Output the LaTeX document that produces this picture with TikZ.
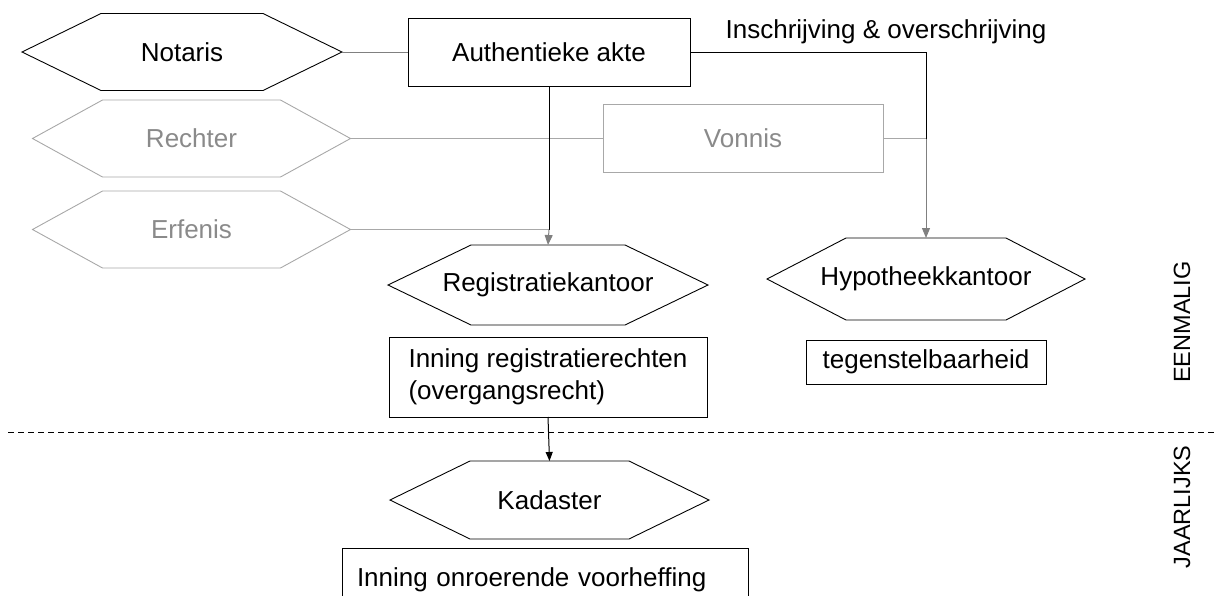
\documentclass[tikz,border=0pt]{standalone}
\usepackage{fontspec}
\setmainfont{Liberation Sans}
\usetikzlibrary{calc,arrows.meta}
\definecolor{lighttext}{HTML}{8A8A8A}
\definecolor{lightline}{HTML}{A8A8A8}
\definecolor{arrowgray}{HTML}{808080}
\newcommand\hexnode[8]{%
  \node[hextext, #7 text, minimum width=2*#4, minimum height=2*#5] (#1) at (#2,#3) {#8};
  \draw[#7 path] (#1.west) -- ($(#1.north west)+(#6,0)$) -- ($(#1.north east)+(-#6,0)$)
    -- (#1.east) -- ($(#1.south east)+(-#6,0)$) -- ($(#1.south west)+(#6,0)$) -- cycle;
}
\begin{document}
\begin{tikzpicture}[x=1pt,y=-1pt,
  every node/.style={font=\fontsize{26}{32}\selectfont},
  hextext/.style={inner sep=0pt, outer sep=0pt},
  dark text/.style={text=black},
  light text/.style={text=lighttext},
  dark path/.style={draw=black, line width=0.9pt},
  light path/.style={draw=lightline, line width=0.9pt},
  boxn/.style={draw=black, line width=1pt, inner sep=0pt, outer sep=0pt, text=black},
  lightbox/.style={draw=lightline, line width=1pt, inner sep=0pt, outer sep=0pt, text=lighttext},
  lbl/.style={inner sep=0pt, outer sep=0pt, text=black},
  darkline/.style={draw=black, line width=1pt},
  midline/.style={draw=arrowgray, line width=1pt},
  lightline/.style={draw=lightline, line width=1pt},
  grayarrow/.style={draw=arrowgray, line width=1pt, -{Triangle[width=8pt,length=10pt]}},
  blackarrow/.style={draw=black, line width=1pt, -{Triangle[width=7pt,length=9pt]}},
  sidelabel/.style={inner sep=0pt, rotate=90, font=\fontsize{23.5}{28}\selectfont, text=black},
]
\useasboundingbox (0,0) rectangle (1216,595);

% hexagons
\hexnode{notaris}{182}{52}{160}{38.5}{79}{dark}{Notaris}
\hexnode{rechter}{191.5}{138.5}{159}{38.5}{70}{light}{Rechter}
\hexnode{erfenis}{191.5}{229.5}{159}{38.5}{70}{light}{Erfenis}
\hexnode{reg}{548}{285}{160}{40}{83}{dark}{Registratiekantoor}
\hexnode{hyp}{926}{279}{159}{41}{79}{dark}{Hypotheekkantoor}
\hexnode{kad}{549.5}{500}{159.5}{39}{80}{dark}{Kadaster}

% boxes
\node[boxn, minimum width=282, minimum height=68] (akte) at (549,52) {Authentieke akte};
\node[lightbox, minimum width=280, minimum height=68] (vonnis) at (743,138.5) {Vonnis};
\node[boxn, minimum width=318, minimum height=80, align=left] (inreg) at (548,377)
  {Inning registratierechten\\(overgangsrecht)};
\node[boxn, minimum width=240, minimum height=44] (teg) at (926,362) {tegenstelbaarheid};
\node[boxn, minimum width=406, minimum height=64, text width=376, align=left] (inon) at (545,580)
  {Inning onroerende voorheffing};

% labels
\node[lbl] (insch) at (886,32) {Inschrijving \& overschrijving};
\node[sidelabel] (eenm) at (1182,322) {EENMALIG};
\node[sidelabel] (jaar) at (1182,507) {JAARLIJKS};

% junctions
\coordinate (j1) at (akte.south |- erfenis.east);
\coordinate (j2) at (hyp.north |- vonnis.east);
\coordinate (dl) at (8,432);
\coordinate (dr) at (1216,432);

% connectors
\draw[midline] (notaris.east) -- (akte.west);
\draw[lightline] (rechter.east) -- (vonnis.west);
\draw[lightline] (erfenis.east) -- (j1);
\draw[darkline] (akte.south) -- (j1);
\draw[grayarrow] (j1) -- (reg.north);
\draw[darkline] (akte.east) -| (j2);
\draw[lightline] (vonnis.east) -- (j2);
\draw[grayarrow] (j2) -- (hyp.north);
\draw[blackarrow] (inreg.south) -- (kad.north);
\draw[black, line width=0.9pt, dash pattern=on 6pt off 4pt] (dl) -- (dr);
\end{tikzpicture}
\end{document}
